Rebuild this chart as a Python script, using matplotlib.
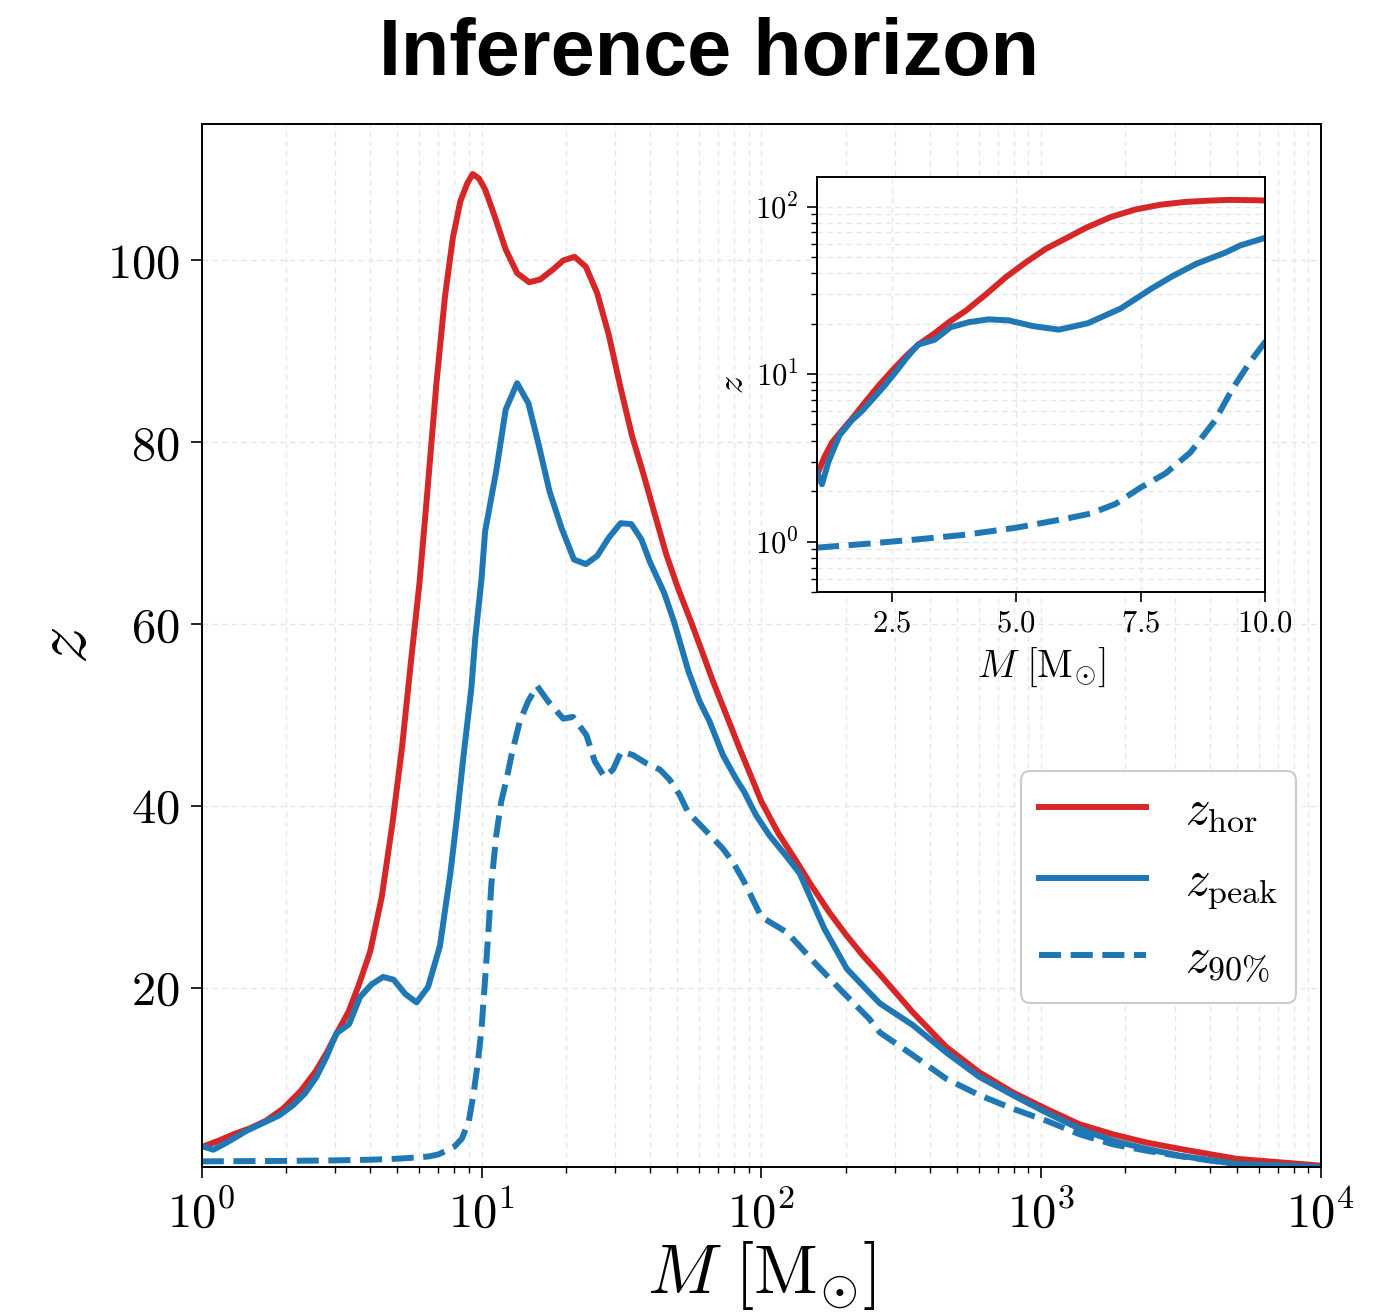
#Inference horizon: z_hor, z_peak and z_90% against total mass M
#Main panel on a log mass axis, inset zooms on 1-10 Msun with log z

import numpy as np
import matplotlib.pyplot as plt

#Values
mass_hor = [1.0, 1.15, 1.3, 1.5, 1.7, 1.95, 2.25, 2.55, 2.8, 3.05, 3.35, 3.65, 4.0, 4.4,
            4.8, 5.2, 5.6, 6.0, 6.4, 6.9, 7.4, 7.9, 8.4, 8.9, 9.3, 9.8, 10.3, 11.1, 12.2,
            13.4, 14.8, 16.2, 18.0, 19.6, 21.5, 23.6, 25.9, 28.5, 31.4, 34.5, 37.9, 41.6,
            45.7, 50.3, 56.0, 60.2, 67.2, 75.0, 83.7, 100, 115, 133, 150, 175, 200, 230,
            265, 348, 458, 602, 793, 1042, 1371, 1803, 2371, 3119, 4989, 10000]
z_hor = [2.5, 3.2, 3.9, 4.6, 5.4, 6.7, 8.6, 10.8, 12.9, 15.1, 17.4, 20.4, 24.0, 30.0,
         38.0, 46.5, 56.0, 64.5, 74.5, 86.5, 96.0, 102.5, 106.5, 108.5, 109.5, 109.0,
         107.8, 105.0, 101.2, 98.6, 97.6, 97.9, 99.0, 100.0, 100.4, 99.3, 96.4, 91.8,
         86.0, 80.7, 76.5, 72.1, 67.7, 64.0, 60.3, 57.7, 53.7, 50.0, 46.3, 40.5, 37.0,
         34.0, 31.4, 28.3, 25.9, 23.6, 21.5, 17.3, 13.5, 10.7, 8.5, 6.7, 5.0, 3.9, 3.0,
         2.3, 1.2, 0.45]

mass_peak = [1.0, 1.1, 1.23, 1.45, 1.7, 1.9, 2.12, 2.34, 2.57, 2.8, 3.03, 3.36, 3.68,
             4.05, 4.45, 4.85, 5.35, 5.86, 6.44, 7.1, 7.73, 8.15, 8.62, 9.2, 9.5, 10.0,
             10.3, 11.28, 12.2, 13.4, 14.7, 15.9, 17.5, 19.3, 21.4, 23.6, 25.9, 28.5,
             31.4, 34.3, 37.3, 39.9, 45.0, 48.7, 54.9, 60.2, 65.3, 72.9, 81.2, 86.7,
             95.7, 106.7, 122, 137, 168, 202, 243, 265, 348, 458, 602, 793, 1042, 1371,
             1803, 2371, 3119, 4989, 10000]
z_peak = [2.6, 2.2, 3.0, 4.3, 5.3, 6.0, 7.1, 8.4, 10.2, 12.5, 15.0, 16.0, 19.0, 20.4,
          21.2, 20.9, 19.3, 18.4, 20.1, 24.6, 32.5, 38.5, 45.5, 53.0, 58.5, 65.0, 70.2,
          76.8, 83.6, 86.5, 84.3, 80.1, 74.6, 70.6, 67.1, 66.6, 67.5, 69.5, 71.1, 71.0,
          69.3, 66.9, 63.4, 60.3, 54.8, 51.5, 49.3, 45.6, 43.0, 41.6, 39.0, 36.8, 34.6,
          32.6, 26.5, 22.1, 19.5, 18.3, 15.9, 12.9, 10.2, 8.2, 6.3, 4.5, 3.2, 2.3, 1.55,
          0.63, 0.3]

mass_90 = [1.0, 2.0, 3.0, 4.0, 5.0, 6.0, 6.5, 7.0, 7.5, 8.0, 8.5, 9.0, 9.35, 9.7, 10.0,
           10.3, 10.56, 10.85, 11.29, 11.76, 12.3, 12.8, 13.7, 14.67, 15.8, 17.3, 19.6,
           21.2, 23.7, 25.4, 27.5, 29.5, 31.6, 34.8, 38.8, 43.4, 47.0, 51.1, 54.7, 63.7,
           72.9, 79.3, 86.7, 100, 123.6, 158, 196, 243, 265, 348, 458, 602, 793, 1042,
           1371, 1803, 2371, 3119, 4989, 10000]
z_90 = [0.92, 0.97, 1.03, 1.1, 1.21, 1.37, 1.47, 1.68, 2.1, 2.55, 3.4, 5.3, 8.2, 11.8,
        15.5, 21.0, 25.8, 31.5, 36.8, 40.5, 43.0, 45.6, 49.3, 51.5, 53.2, 51.5, 49.6,
        49.8, 47.8, 44.9, 43.2, 44.0, 46.0, 45.6, 44.7, 44.0, 42.9, 41.2, 39.3, 37.2,
        35.3, 33.8, 31.7, 27.8, 26.1, 22.5, 19.5, 16.6, 15.1, 12.6, 10.0, 8.2, 6.7, 5.4,
        3.9, 2.8, 2.1, 1.5, 0.6, 0.3]

labels = [r'$z_{\rm hor}$', r'$z_{\rm peak}$', r'$z_{90\%}$']
red = '#d62728'
blue = '#1f77b4'

#Computer Modern look without a LaTeX install
plt.rcParams['font.family'] = 'serif'
plt.rcParams['font.serif'] = ['cmr10']
plt.rcParams['mathtext.fontset'] = 'cm'
plt.rcParams['axes.formatter.use_mathtext'] = True
plt.rcParams['axes.unicode_minus'] = False

fig = plt.figure(figsize=(13.99, 13.15), dpi=100)
ax = fig.add_axes([0.1442, 0.1122, 0.8, 0.7935])

lw = 4.3
ax.plot(mass_hor, z_hor, color=red, lw=lw, label=labels[0])
ax.plot(mass_peak, z_peak, color=blue, lw=lw, label=labels[1])
ax.plot(mass_90, z_90, color=blue, lw=lw, ls='--', label=labels[2])

ax.set_xscale('log')
ax.set_xlim(1, 1e4)
ax.set_ylim(0.25, 115)
ax.set_yticks([20, 40, 60, 80, 100])
ax.grid(True, which='both', ls=(0, (4, 3)), lw=1.0, color='#e6e6e6')
ax.set_axisbelow(True)
ax.tick_params(which='major', labelsize=35, length=8, width=1.2, pad=8)
ax.tick_params(which='minor', length=4.5, width=1.0)
for s in ax.spines.values():
    s.set_linewidth(1.4)
ax.set_xlabel(r'$M\ [\mathrm{M}_{\odot}]$', fontsize=50, labelpad=2)
ax.set_ylabel(r'$z$', fontsize=54, labelpad=4)

leg = ax.legend(loc='upper right', bbox_to_anchor=(0.978, 0.380), borderaxespad=0,
                fontsize=35, handlelength=2.2, handletextpad=0.8, labelspacing=0.55,
                borderpad=0.38, framealpha=1)
leg.get_frame().set_edgecolor('#cccccc')
leg.get_frame().set_linewidth(1.5)

#Inset: same curves, linear mass axis, log z axis
ins = fig.add_axes([0.584, 0.5498, 0.3202, 0.3156])
ins.plot(mass_hor, z_hor, color=red, lw=lw)
ins.plot(mass_peak, z_peak, color=blue, lw=lw)
ins.plot(mass_90, z_90, color=blue, lw=lw, ls='--')
ins.set_yscale('log')
ins.set_xlim(1, 10)
ins.set_ylim(0.5, 150)
ins.set_xticks([2.5, 5.0, 7.5, 10.0])
ins.grid(True, which='both', ls=(0, (4, 3)), lw=1.0, color='#e6e6e6')
ins.set_axisbelow(True)
ins.tick_params(which='major', labelsize=22, length=7, width=1.2, pad=6)
ins.tick_params(which='minor', length=4, width=1.0)
for s in ins.spines.values():
    s.set_linewidth(1.4)
ins.set_xlabel(r'$M\ [\mathrm{M}_{\odot}]$', fontsize=28, labelpad=6)
ins.set_ylabel(r'$z$', fontsize=26, labelpad=4)

fig.text(0.507, 0.943, 'Inference horizon', ha='center', va='baseline',
         fontsize=57, fontweight='bold', family='Liberation Sans')

plt.savefig('out.png', dpi=100)
